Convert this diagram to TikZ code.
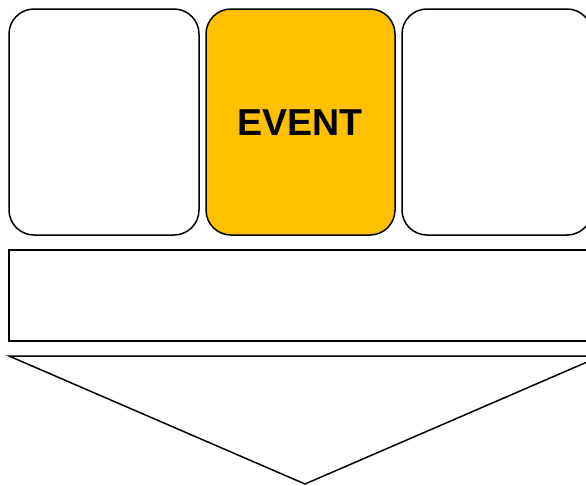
\documentclass[tikz,border=0pt]{standalone}
\usepackage{fontspec}
\setmainfont{Liberation Sans}
\definecolor{evgold}{HTML}{FFC000}
\begin{document}
\begin{tikzpicture}[x=1pt,y=-1pt,
  card/.style={draw=black,line width=1.5pt,rounded corners=25pt},
  band/.style={draw=black,line width=1.5pt}]
\useasboundingbox (0,0) rectangle (586,485);
\clip (0,0) rectangle (586,485);
\draw[card,fill=white] (9,9) rectangle (199,235);
\draw[card,fill=evgold] (206,9) rectangle (395,235);
\draw[card,fill=white] (402,9) rectangle (592,235);
\node[font=\bfseries\fontsize{37.5}{40}\selectfont] (ev) at (300,123) {EVENT};
\draw[band] (9,250) rectangle (601,341);
\draw[band,line join=miter] (9,356) -- (601,356) -- (305,484) -- cycle;
\end{tikzpicture}
\end{document}
